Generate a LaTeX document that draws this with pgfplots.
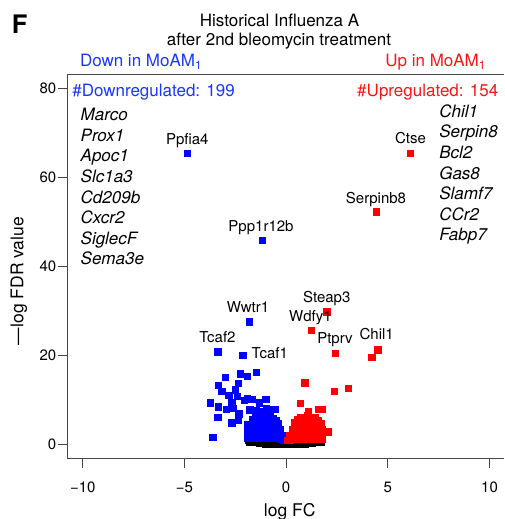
\documentclass[border=0pt]{standalone}
\usepackage{pgfplots}
\pgfplotsset{compat=1.18}
\usepackage{pgfplotstable}
\usepackage{fontspec}
\setmainfont{TeX Gyre Heros}
\definecolor{mblue}{RGB}{0,0,255}
\definecolor{mred}{RGB}{255,0,0}
\definecolor{tblue}{RGB}{25,55,255}
\definecolor{tred}{RGB}{255,20,20}
\definecolor{axgray}{RGB}{70,70,70}

\pgfplotstableread{
x y
-1.85 0.9
-1.80 0.5
-1.70 0.7
-1.60 0.5
-1.45 0.35
-1.30 0.25
-1.15 0.15
-1.00 0.1
-0.85 0.1
-0.70 0.1
-0.55 0.1
-0.40 0.1
-0.25 0.1
-0.10 0.1
0.05 0.1
0.20 0.1
0.35 0.1
0.50 0.1
0.65 0.1
0.80 0.1
0.95 0.1
1.10 0.15
1.25 0.25
1.40 0.35
1.55 0.5
1.65 0.7
1.72 0.9
1.72 0.4
-1.30 0.7
-1.00 0.6
-0.60 0.6
0.60 0.6
1.00 0.6
1.30 0.7
}\blackdata

\pgfplotstableread{
x y
-4.86 65.5
-1.18 45.9
-1.83 27.5
-3.37 20.8
-2.13 20.0
-3.01 15.0
-2.26 15.8
-1.93 15.3
-1.47 16.1
-3.33 13.3
-2.37 13.7
-3.16 11.9
-2.83 11.0
-2.51 12.2
-2.42 10.7
-3.73 9.3
-3.33 8.4
-2.96 7.8
-2.67 9.3
-2.05 9.9
-1.69 10.1
-1.33 9.3
-1.00 10.1
-3.36 6.1
-2.67 4.8
-2.37 5.4
-2.34 6.8
-3.62 1.6
-1.80 7.7
-1.47 7.5
-1.15 7.3
-0.87 7.7
-0.54 7.8
-2.59 8.0
-1.91 10.3
-0.99 8.0
-1.90 1.4
-1.90 2.5
-1.90 3.6
-1.90 4.4
-1.78 1.6
-1.78 3.0
-1.78 4.2
-1.65 1.4
-1.65 2.5
-1.65 3.6
-1.65 4.7
-1.65 5.6
-1.52 2.0
-1.52 3.1
-1.52 4.2
-1.52 5.3
-1.52 6.2
-1.40 1.4
-1.40 2.5
-1.40 3.6
-1.40 4.7
-1.40 5.8
-1.27 2.0
-1.27 3.1
-1.27 4.2
-1.27 5.3
-1.27 6.4
-1.15 1.4
-1.15 2.5
-1.15 3.6
-1.15 4.7
-1.15 5.8
-1.02 2.0
-1.02 3.1
-1.02 4.2
-1.02 5.3
-1.02 6.3
-0.90 1.4
-0.90 2.5
-0.90 3.6
-0.90 4.7
-0.90 5.8
-0.77 2.0
-0.77 3.1
-0.77 4.2
-0.77 5.3
-0.77 6.2
-0.65 1.4
-0.65 2.5
-0.65 3.6
-0.65 4.7
-0.65 5.8
-0.52 2.0
-0.52 3.1
-0.52 4.2
-0.52 5.3
-0.40 1.4
-0.40 2.5
-0.40 3.6
-0.40 4.6
-0.28 1.2
-0.28 2.2
-0.28 3.3
-0.15 1.0
-0.15 1.9
-0.05 0.9
}\bluedata

\pgfplotstableread{
x y
6.09 65.5
4.42 52.3
2.00 29.8
1.23 25.6
2.42 20.4
4.50 21.2
4.21 19.6
0.92 13.8
2.37 11.9
3.06 12.6
0.68 9.2
1.07 7.3
1.58 7.8
1.76 7.8
2.08 2.8
1.72 4.7
0.08 0.9
0.18 1.0
0.18 1.9
0.30 1.1
0.30 2.2
0.30 3.2
0.42 1.6
0.42 2.7
0.42 3.8
0.42 4.8
0.55 1.1
0.55 2.2
0.55 3.3
0.55 4.4
0.55 5.5
0.68 1.6
0.68 2.7
0.68 3.8
0.68 4.9
0.68 6.0
0.80 1.1
0.80 2.2
0.80 3.3
0.80 4.4
0.80 5.5
0.92 1.6
0.92 2.7
0.92 3.8
0.92 4.9
0.92 6.0
1.05 1.1
1.05 2.2
1.05 3.3
1.05 4.4
1.05 5.5
1.05 6.4
1.18 1.6
1.18 2.7
1.18 3.8
1.18 4.9
1.18 5.9
1.30 1.1
1.30 2.2
1.30 3.3
1.30 4.4
1.30 5.4
1.42 1.6
1.42 2.7
1.42 3.8
1.42 4.9
1.42 5.9
1.55 1.1
1.55 2.2
1.55 3.3
1.55 4.4
1.55 5.3
1.66 1.6
1.66 2.7
1.66 3.8
1.75 1.2
1.75 2.3
1.75 3.4
}\reddata

\begin{document}
\begin{tikzpicture}
\begin{axis}[
  scale only axis, width=436.7pt, height=384.4pt,
  xmin=-10.76, xmax=10.71, ymin=-3.3, ymax=83.2,
  axis x line=box, axis y line=left,
  axis line style={-, draw=axgray, line width=1.2pt},
  y axis line style={-},
  xtick={-10,-5,0,5,10}, xticklabels={−10,−5,0,5,10},
  ytick={0,20,40,60,80}, yticklabels={0,20,40,60,80},
  tick align=outside, xtick pos=left, ytick pos=left,
  major tick length=9pt,
  tick style={draw=axgray, line width=1pt},
  ticklabel style={font=\fontsize{15}{18}\selectfont},
  xticklabel style={yshift=-11pt},
  yticklabel style={xshift=1.5pt},
  /pgf/number format/assume math mode=true,
  clip=false,
]
\addplot[only marks, mark=square*, mark size=3.2pt, black] table {\blackdata};
\addplot[only marks, mark=square*, mark size=3.2pt, mblue] table {\bluedata};
\addplot[only marks, mark=square*, mark size=3.2pt, mred] table {\reddata};
\end{axis}
\coordinate (TL) at ([xshift=-67.3pt,yshift=458.7pt]current axis.south west);
\begin{scope}[shift={(TL)}, x=1pt, y=-1pt, every node/.style={inner sep=0pt, outer sep=0pt}]
\node[anchor=base west, font=\fontsize{25.5}{28}\selectfont\bfseries] at (12,33.3) {F};
\node[anchor=base, font=\fontsize{17}{20}\selectfont] at (279.5,26.5) {Historical Influenza A};
\node[anchor=base, font=\fontsize{17}{20}\selectfont] at (279,46) {after 2nd bleomycin treatment};
\node[anchor=base west, font=\fontsize{17}{20}\selectfont, text=tblue] at (80,66.5) {Down in MoAM\textsubscript{1}};
\node[anchor=base east, font=\fontsize{17}{20}\selectfont, text=tred] at (486,66.5) {Up in MoAM\textsubscript{1}};
\node[anchor=base west, font=\fontsize{17}{20}\selectfont, text=tblue] at (72.3,96.5) {\#Downregulated: 199};
\node[anchor=base east, font=\fontsize{17}{20}\selectfont, text=tred] at (498.3,96.8) {\#Upregulated: 154};
\foreach \g [count=\i from 0] in {Marco,Prox1,Apoc1,Slc1a3,Cd209b,Cxcr2,SiglecF,Sema3e}
  \node[anchor=base west, font=\fontsize{17}{20}\selectfont\itshape] at (80.7,120.7+20.6*\i) {\g};
\foreach \g [count=\i from 0] in {Chil1,Serpin8,Bcl2,Gas8,Slamf7,CCr2,Fabp7}
  \node[anchor=base west, font=\fontsize{17}{20}\selectfont\itshape] at (439.3,117.3+20.6*\i) {\g};
\begin{scope}[every node/.append style={font=\fontsize{15}{18}\selectfont}]
\node[anchor=base] at (187.3,144.8) {Ppfia4};
\node[anchor=base] at (261,231.5) {Ppp1r12b};
\node[anchor=base] at (410.5,144) {Ctse};
\node[anchor=base] at (376,203.5) {Serpinb8};
\node[anchor=base] at (248,313) {Wwtr1};
\node[anchor=base] at (217.5,343) {Tcaf2};
\node[anchor=base west] at (251.7,358.5) {Tcaf1};
\node[anchor=base] at (326.8,302.5) {Steap3};
\node[anchor=base] at (310.5,321.5) {Wdfy1};
\node[anchor=base] at (335,343.5) {Ptprv};
\node[anchor=base] at (376.7,340) {Chil1};
\end{scope}
\node[anchor=base, font=\fontsize{17.5}{20}\selectfont] at (289.7,516.5) {log FC};
\node[anchor=base, rotate=90, font=\fontsize{17.5}{20}\selectfont] at (23.5,281) {—log FDR value};
\pgfresetboundingbox
\useasboundingbox (0,0) rectangle (504,519);
\end{scope}
\end{tikzpicture}
\end{document}
